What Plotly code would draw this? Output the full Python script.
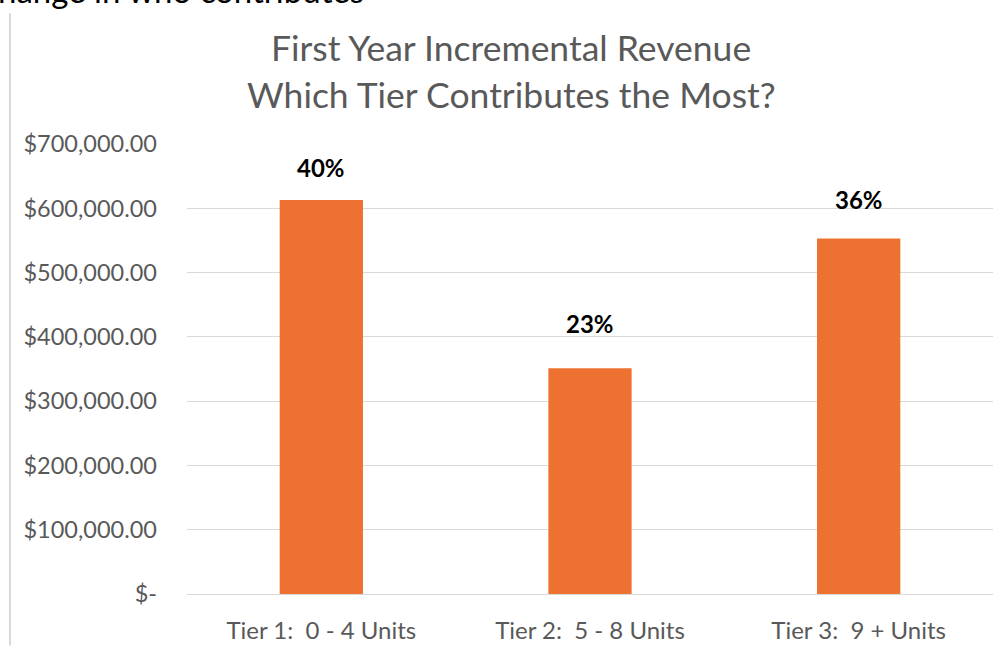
import plotly.graph_objects as go

categories = ["Tier 1:  0 - 4 Units", "Tier 2:  5 - 8 Units", "Tier 3:  9 + Units"]
revenue = [613000, 351000, 553000]
pct_labels = ["40%", "23%", "36%"]
label_shift = [32, 45, 39]
tick_vals = [0, 100000, 200000, 300000, 400000, 500000, 600000, 700000]
tick_text = ["$-", "$100,000.00", "$200,000.00", "$300,000.00", "$400,000.00",
             "$500,000.00", "$600,000.00", "$700,000.00"]
title_lines = ["First Year Incremental Revenue", "Which Tier Contributes the Most?"]
cut_text = "Change in who contributes"

W, H = 996, 647
L, R, T, B = 187, 3, 144, 49
pw, ph = W - L - R, H - T - B

def px_x(x):
    return (x - L) / pw

def px_y(y):
    return (H - B - y) / ph

FONT = "Lato"
GRAY = "#595959"

fig = go.Figure(go.Bar(
    x=categories, y=revenue, marker=dict(color="#ED7231", line=dict(width=0)),
    hoverinfo="skip",
))

anns = []
for c, v, t, s in zip(categories, revenue, pct_labels, label_shift):
    anns.append(dict(x=c, y=v, xref="x", yref="y", text=f"<b>{t}</b>", showarrow=False,
                     yanchor="middle", yshift=s, font=dict(family=FONT, size=24, color="#000000")))
anns.append(dict(x=px_x(511), y=px_y(47), xref="paper", yref="paper", text=title_lines[0],
                 showarrow=False, xanchor="center", yanchor="middle",
                 font=dict(family=FONT, size=35.5, color=GRAY)))
anns.append(dict(x=px_x(511), y=px_y(94), xref="paper", yref="paper", text=title_lines[1],
                 showarrow=False, xanchor="center", yanchor="middle",
                 font=dict(family=FONT, size=35.5, color=GRAY)))
anns.append(dict(x=px_x(-26), y=px_y(-11), xref="paper", yref="paper", text=cut_text,
                 showarrow=False, xanchor="left", yanchor="middle",
                 font=dict(family=FONT, size=33, color="#000000")))

fig.update_layout(
    width=W, height=H,
    margin=dict(l=L, r=R, t=T, b=B, pad=0),
    paper_bgcolor="white", plot_bgcolor="white",
    bargap=0.69, showlegend=False,
    annotations=anns,
    shapes=[dict(type="line", xref="paper", yref="paper",
                 x0=px_x(10), x1=px_x(10), y0=px_y(12), y1=px_y(650),
                 line=dict(color="#d9d9d9", width=2))],
    xaxis=dict(showgrid=False, showline=False, ticks="", ticklabelstandoff=20,
               tickfont=dict(family=FONT, size=24, color=GRAY)),
    yaxis=dict(range=[0, 700000], tickvals=tick_vals, ticktext=tick_text,
               showgrid=True, gridcolor="#d9d9d9", gridwidth=1, zeroline=True,
               zerolinecolor="#d9d9d9", zerolinewidth=1, showline=False, ticks="",
               ticklabelstandoff=29, tickfont=dict(family=FONT, size=23.5, color=GRAY)),
)

fig.write_html("out.html", config={"displayModeBar": False},
               post_script="document.body.style.margin='0';document.body.style.overflow='hidden';")
